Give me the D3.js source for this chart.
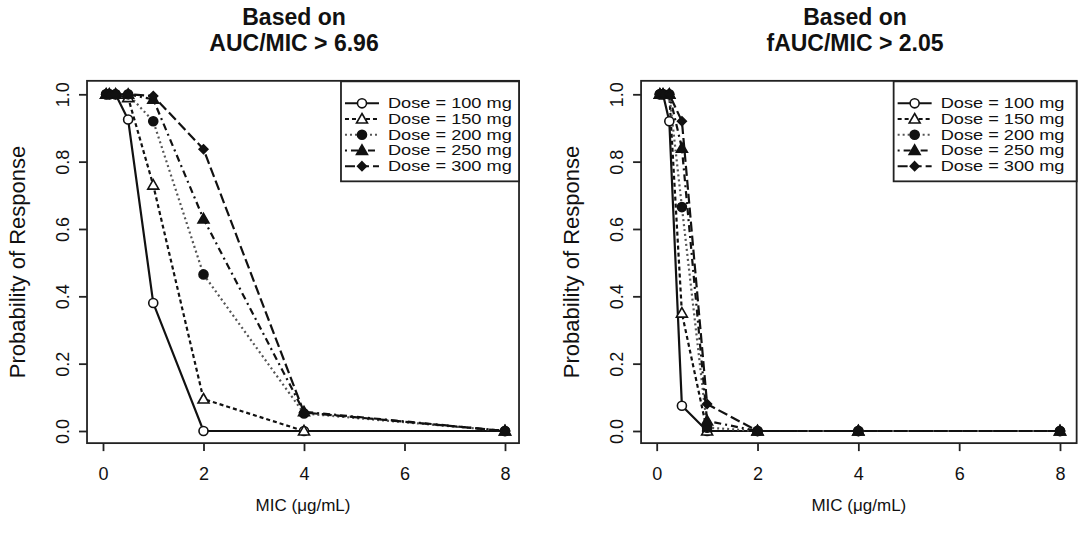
<!DOCTYPE html>
<html><head><meta charset="utf-8">
<script src="https://cdn.jsdelivr.net/npm/d3@7"></script>
<style>
html,body{margin:0;padding:0;background:#fff;}
svg text{font-family:"Liberation Sans",Arial,Helvetica,sans-serif;fill:#111;}
</style></head>
<body>
<svg id="chart" width="1080" height="535"></svg>
<script>
// ---- data ----
const mic = [0.0625, 0.125, 0.25, 0.5, 1, 2, 4, 8];
const doses = ["Dose = 100 mg", "Dose = 150 mg", "Dose = 200 mg", "Dose = 250 mg", "Dose = 300 mg"];
const xTicks = [0, 2, 4, 6, 8];
const yTicks = [0, 0.2, 0.4, 0.6, 0.8, 1.0];
const titlesLeft = ["Based on", "AUC/MIC > 6.96"];
const titlesRight = ["Based on", "fAUC/MIC > 2.05"];
// left panel: AUC/MIC > 6.96
const auc100 = [1, 1, 1, 0.925, 0.38, 0, 0, 0];
const auc150 = [1, 1, 1, 0.99, 0.73, 0.095, 0, 0];
const auc200 = [1, 1, 1, 1, 0.92, 0.465, 0.052, 0];
const auc250 = [1, 1, 1, 1, 0.985, 0.63, 0.057, 0];
const auc300 = [1, 1, 1, 1, 0.995, 0.837, 0.055, 0];
// right panel: fAUC/MIC > 2.05
const fauc100 = [1, 1, 0.92, 0.075, 0, 0, 0, 0];
const fauc150 = [1, 1, 1, 0.35, 0, 0, 0, 0];
const fauc200 = [1, 1, 1, 0.665, 0.01, 0, 0, 0];
const fauc250 = [1, 1, 1, 0.84, 0.03, 0, 0, 0];
const fauc300 = [1, 1, 1, 0.92, 0.08, 0, 0, 0];

// ---- styles per series ----
const styles = [
  {dash: null, sym: "ocircle"},
  {dash: "4,3", sym: "otri"},
  {dash: "2,3", sym: "fcircle", stroke: "#555"},
  {dash: "2,4,7,4", sym: "ftri"},
  {dash: "10,4", sym: "fdiam"}
];

const svg = d3.select("#chart");

function symPath(type) {
  if (type === "ocircle" || type === "fcircle") return d3.symbol(d3.symbolCircle, 64)();
  if (type === "otri" || type === "ftri") return d3.symbol(d3.symbolTriangle, 52)();
  const r = 4.4;
  return `M0,${-r}L${r},0L0,${r}L${-r},0Z`;
}
function drawSym(g, type, x, y) {
  const filled = type[0] === "f";
  g.append("path").attr("d", symPath(type))
    .attr("transform", `translate(${x},${y + (type.endsWith("tri") ? 0.8 : 0)})`)
    .attr("fill", filled ? "#111" : "#fff")
    .attr("stroke", "#111").attr("stroke-width", 1.6);
}

function panel(cfg) {
  const x = d3.scaleLinear().domain([0, 8]).range([cfg.x0, cfg.x8]);
  const y = d3.scaleLinear().domain([0, 1]).range([431, 94.3]);
  const g = svg.append("g");
  const bx0 = x(cfg.boxDom[0]), bx1 = x(cfg.boxDom[1]);
  const by0 = y(1.04), by1 = y(-0.036);

  // series
  const line = d3.line().x((d, i) => x(mic[i])).y(d => y(d));
  cfg.series.forEach((s, k) => {
    const st = styles[k];
    g.append("path").datum(s).attr("d", line)
      .attr("fill", "none").attr("stroke", st.stroke || "#111")
      .attr("stroke-width", 2.2).attr("stroke-dasharray", st.dash);
  });
  cfg.series.forEach((s, k) => {
    s.forEach((v, i) => drawSym(g, styles[k].sym, x(mic[i]), y(v)));
  });

  // box
  g.append("rect").attr("x", bx0).attr("y", by0).attr("width", bx1 - bx0).attr("height", by1 - by0)
    .attr("fill", "none").attr("stroke", "#222").attr("stroke-width", 1.8);

  // x axis
  const xa = g.append("g").attr("transform", `translate(0,${by1})`)
    .call(d3.axisBottom(x).tickValues(xTicks).tickSize(8).tickPadding(16).tickFormat(d3.format("d")));
  xa.select(".domain").remove();
  xa.selectAll("line").attr("stroke", "#222").attr("stroke-width", 1.8);
  xa.selectAll("text").attr("font-size", 18).attr("fill", "#111");

  // y axis
  const ya = g.append("g").attr("transform", `translate(${bx0},0)`)
    .call(d3.axisLeft(y).tickValues(yTicks).tickSize(8).tickFormat(d3.format(".1f")));
  ya.select(".domain").remove();
  ya.selectAll("line").attr("stroke", "#222").attr("stroke-width", 1.8);
  ya.selectAll("text").attr("font-size", 18).attr("fill", "#111")
    .attr("text-anchor", "middle").attr("x", null).attr("dy", null)
    .attr("transform", d => `translate(-18,${0}) rotate(-90)`);

  // labels
  g.append("text").attr("x", (bx0 + bx1) / 2).attr("y", 511).attr("text-anchor", "middle")
    .attr("font-size", 17).text("MIC (μg/mL)");
  g.append("text").attr("transform", `translate(${bx0 - 62},${(by0 + by1) / 2}) rotate(-90)`)
    .attr("text-anchor", "middle").attr("font-size", 22).text("Probability of Response");

  // title
  cfg.title.forEach((t, i) => {
    g.append("text").attr("x", cfg.titleX).attr("y", 25 + i * 26).attr("text-anchor", "middle")
      .attr("font-size", 23).attr("font-weight", "bold").text(t);
  });

  // legend
  const lx = x(cfg.legDom), ly = by0 + 0.5, lw = bx1 - lx, lh = 100;
  g.append("rect").attr("x", lx).attr("y", ly).attr("width", lw).attr("height", lh)
    .attr("fill", "#fff").attr("stroke", "#222").attr("stroke-width", 1.8);
  doses.forEach((d, k) => {
    const yy = ly + 22 + k * 15.7;
    g.append("line").attr("x1", lx + 4).attr("x2", lx + 38).attr("y1", yy).attr("y2", yy)
      .attr("stroke", styles[k].stroke || "#111").attr("stroke-width", 2)
      .attr("stroke-dasharray", styles[k].dash);
    drawSym(g, styles[k].sym, lx + 21, yy);
    g.append("text").attr("transform", `translate(${lx + 47},${yy + 5}) scale(1.3,1)`)
      .attr("font-size", 14).text(d);
  });
}

panel({x0: 103, x8: 505, boxDom: [-0.318, 8.279], legDom: 4.736,
  series: [auc100, auc150, auc200, auc250, auc300], title: titlesLeft, titleX: 294});
panel({x0: 656.7, x8: 1060, boxDom: [-0.31, 8.33], legDom: 4.7,
  series: [fauc100, fauc150, fauc200, fauc250, fauc300], title: titlesRight, titleX: 855});
</script>
</body></html>
